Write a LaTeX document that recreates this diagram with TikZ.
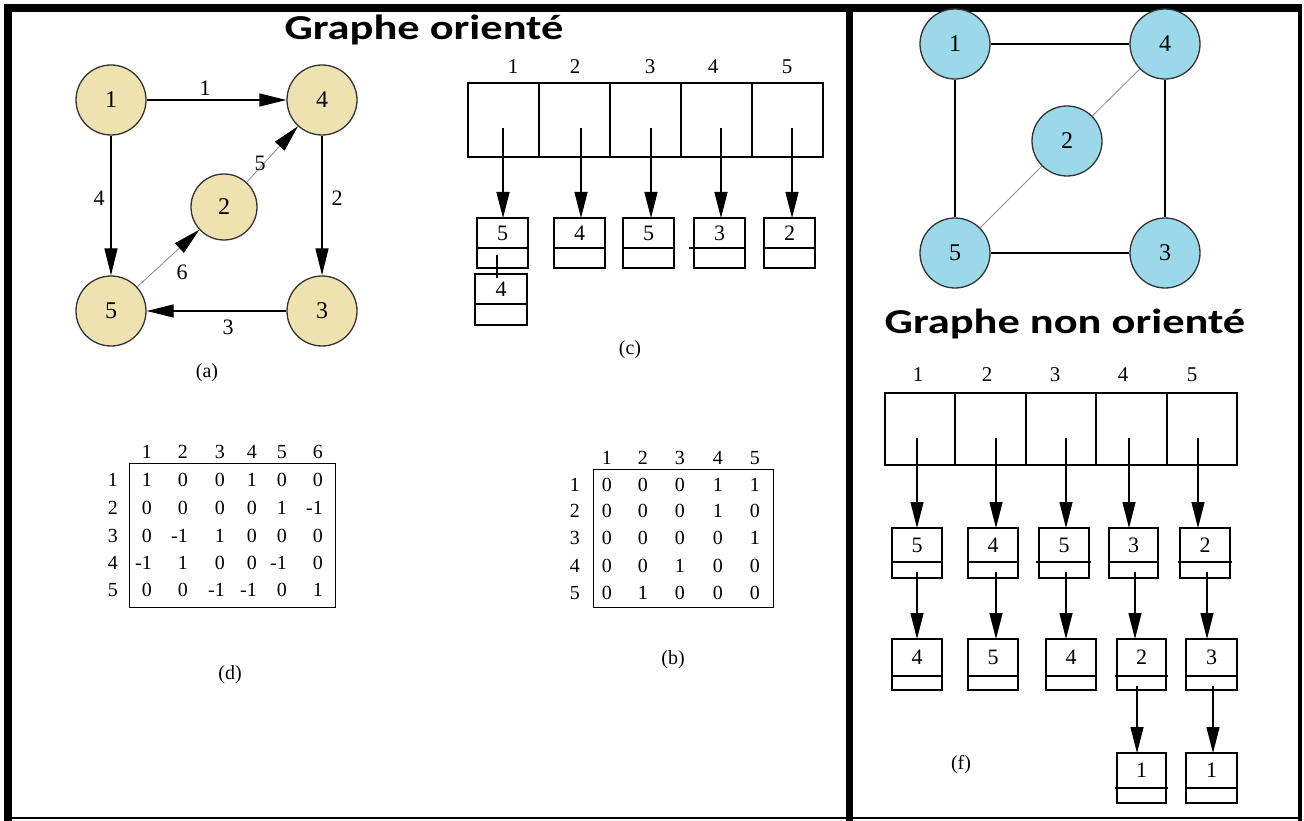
\documentclass[tikz,border=0pt]{standalone}
\usepackage{fontspec}
\setmainfont{Liberation Serif}
\newfontfamily\titlefont[FakeStretch=1.27]{Carlito}
\usetikzlibrary{arrows.meta,calc}
\definecolor{nodetan}{RGB}{238,226,176}
\definecolor{nodeblue}{RGB}{155,216,233}
\newcommand\mkcell[9]{% name, xl, yt, w, h, hd, text, extl, extr
  \node[cellbox, minimum width=#4pt, minimum height=#5pt, anchor=north west] (#1) at (#2,#3) {};
  \draw[line width=2pt] ($(#1.north west)+(-#8,#6)$) -- ($(#1.north east)+(#9,#6)$);
  \node[numtxt] (#1t) at ($(#1.north)+(0,#6/2)$) {#7};
}
\begin{document}
\begin{tikzpicture}[x=1pt,y=-1pt,
  vtx/.style={circle, draw=black!80, line width=1.3pt, minimum size=70pt, inner sep=0pt, font=\fontsize{24}{28}\selectfont},
  tanv/.style={vtx, fill=nodetan},
  bluev/.style={vtx, fill=nodeblue},
  dedge/.style={line width=1.3pt, -{Triangle[length=27pt,width=13pt]}},
  thinedge/.style={line width=0.8pt, draw=black!45},
  thinarrow/.style={thinedge, -{Triangle[length=27pt,width=13pt,black]}},
  uedge/.style={line width=1.3pt},
  elab/.style={font=\fontsize{22}{26}\selectfont, inner sep=0pt},
  cellbox/.style={draw, line width=2pt, rectangle, inner sep=0pt, outer sep=0pt},
  numtxt/.style={font=\fontsize{22}{26}\selectfont, inner sep=0pt},
  hdtxt/.style={font=\fontsize{21}{25}\selectfont, inner sep=0pt},
  larrow/.style={line width=1.3pt, -{Triangle[length=26pt,width=13pt]}},
  mtxt/.style={font=\fontsize{20}{24}\selectfont, inner sep=0pt, anchor=east},
  captxt/.style={font=\fontsize{20}{24}\selectfont, inner sep=0pt},
  ttl/.style={font=\titlefont\bfseries\fontsize{35}{40}\selectfont, inner sep=0pt}
]
\fill[white] (0,0) rectangle (1304,821);
\useasboundingbox (0,0) rectangle (1304,821);

% frame
\draw[line width=8pt] (8,4) -- (8,821);
\draw[line width=8pt] (4,8) -- (1302,8);
\draw[line width=4pt] (1300,4) -- (1300,821);
\draw[line width=2pt] (4,818) -- (1302,818);
\draw[line width=7pt] (849.5,4) -- (849.5,821);

% titles
\node[ttl] (t1) at (424,30) {Graphe orienté};
\node[ttl] (t2) at (1065,324) {Graphe non orienté};

% directed graph (a)
\node[tanv] (a1) at (111,100) {1};
\node[tanv] (a4) at (322,100) {4};
\node[tanv, minimum size=66pt] (a2) at (224,207) {2};
\node[tanv] (a5) at (111,311) {5};
\node[tanv] (a3) at (322,311) {3};
\draw[dedge] (a1) -- (a4);
\draw[dedge] (a1) -- (a5);
\draw[dedge] (a4) -- (a3);
\draw[dedge] (a3) -- (a5);
\draw[thinarrow] (a5) -- (a2);
\draw[thinarrow] (a2) -- (a4);
\node[elab] (e1) at (205,88) {1};
\node[elab] (e4) at (99,198) {4};
\node[elab] (e2) at (337,198) {2};
\node[elab] (e3) at (228,327) {3};
\node[elab] (e6) at (182,272) {6};
\node[elab] (e5) at (260,163) {5};
\node[captxt] (capa) at (207,373) {(a)};

% undirected graph
\node[bluev] (b1) at (955,44) {1};
\node[bluev] (b4) at (1165,44) {4};
\node[bluev] (b2) at (1067,141) {2};
\node[bluev] (b5) at (955,253) {5};
\node[bluev] (b3) at (1165,253) {3};
\draw[uedge] (b1) -- (b4);
\draw[uedge] (b1) -- (b5);
\draw[uedge] (b4) -- (b3);
\draw[uedge] (b5) -- (b3);
\draw[thinedge] (b5) -- (b2);
\draw[thinedge] (b2) -- (b4);

% adjacency list (c)
\foreach \i/\xl in {1/468,2/539,3/610,4/681,5/752}{
  \node[cellbox, minimum width=71pt, minimum height=74pt, anchor=north west] (ch\i) at (\xl,83) {};
}
\foreach \i/\x in {1/513,2/575,3/650,4/713,5/787}{
  \node[hdtxt] (chl\i) at (\x,67) {\i};
}
\mkcell{c1}{477}{218}{51}{50}{30}{5}{0}{0}
\mkcell{c2}{554}{218}{51}{50}{30}{4}{0}{0}
\mkcell{c3}{623}{218}{51}{50}{30}{5}{0}{0}
\mkcell{c4}{694}{218}{51}{50}{30}{3}{5}{0}
\mkcell{c5}{764}{218}{51}{50}{30}{2}{0}{0}
\mkcell{c1b}{475}{274}{52}{51}{30}{4}{0}{0}
\foreach \i/\x/\tgt in {1/503/c1,2/581/c2,3/651/c3,4/721/c4,5/792/c5}{
  \coordinate (cs\i) at (\x,128);
  \draw[larrow] (cs\i) -- (cs\i |- \tgt.north);
}
\coordinate (cp1) at (497,255);
\draw[line width=1.3pt] (cp1) -- ($(cp1 |- c1b.north)+(0,4)$);
\node[captxt] (capc) at (630,350) {(c)};

% incidence matrix (d)
\node[draw, line width=1.3pt, rectangle, inner sep=0pt, minimum width=206pt, minimum height=144pt, anchor=north west] (dbox) at (129,463) {};
\foreach \c/\x in {1/147,2/183,3/220,4/252,5/282,6/318}{
  \node[mtxt] (dh\c) at (\x+5,452) {\c};
}
\foreach \r/\y in {1/480,2/508,3/536,4/563,5/590}{
  \node[mtxt] (dr\r) at (118,\y) {\r};
}
\foreach \r/\y/\vals in {1/480/{1,0,0,1,0,0},2/508/{0,0,0,0,1,-1},3/536/{0,-1,1,0,0,0},4/563/{-1,1,0,0,-1,0},5/590/{0,0,-1,-1,0,1}}{
  \foreach \v [count=\c] in \vals {
    \pgfmathsetmacro{\xx}{{147,183,220,252,282,318}[\c-1]+5}
    \node[mtxt] (d\r\c) at (\xx,\y) {\v};
  }
}
\node[captxt] (capd) at (230,675) {(d)};

% adjacency matrix (b)
\node[draw, line width=1.3pt, rectangle, inner sep=0pt, minimum width=180pt, minimum height=138pt, anchor=north west] (bbox) at (593,469) {};
\foreach \c/\x in {1/607,2/643,3/680,4/718,5/755}{
  \node[mtxt] (bh\c) at (\x+5,458) {\c};
}
\foreach \r/\y in {1/485,2/511,3/538,4/566,5/593}{
  \node[mtxt] (br\r) at (580,\y) {\r};
}
\foreach \r/\y/\vals in {1/485/{0,0,0,1,1},2/511/{0,0,0,1,0},3/538/{0,0,0,0,1},4/566/{0,0,1,0,0},5/593/{0,1,0,0,0}}{
  \foreach \v [count=\c] in \vals {
    \pgfmathsetmacro{\xx}{{607,643,680,718,755}[\c-1]+5}
    \node[mtxt] (bm\r\c) at (\xx,\y) {\v};
  }
}
\node[captxt] (capb) at (673,660) {(b)};

% adjacency list (f)
\foreach \i/\xl in {1/885,2/955.4,3/1025.8,4/1096.2,5/1166.6}{
  \node[cellbox, minimum width=70.4pt, minimum height=72pt, anchor=north west] (fh\i) at (\xl,393) {};
}
\foreach \i/\x in {1/918,2/987,3/1055,4/1123,5/1192}{
  \node[hdtxt] (fhl\i) at (\x,375) {\i};
}
\mkcell{f11}{892}{528}{50}{50}{34}{5}{0}{0}
\mkcell{f12}{968}{528}{50}{50}{34}{4}{0}{0}
\mkcell{f13}{1039}{528}{50}{50}{34}{5}{3}{2}
\mkcell{f14}{1109}{528}{49}{50}{34}{3}{0}{0}
\mkcell{f15}{1180}{528}{50}{50}{34}{2}{2}{2}
\mkcell{f21}{892}{639}{50}{51}{37}{4}{0}{0}
\mkcell{f22}{968}{639}{50}{51}{37}{5}{0}{0}
\mkcell{f23}{1046}{639}{50}{51}{37}{4}{0}{0}
\mkcell{f24}{1117}{639}{49}{51}{37}{2}{2}{2}
\mkcell{f25}{1186}{639}{51}{51}{37}{3}{0}{0}
\mkcell{f34}{1117}{753}{49}{50}{35}{1}{2}{2}
\mkcell{f35}{1186}{753}{51}{50}{35}{1}{0}{0}
\foreach \i/\x/\tgt in {1/917/f11,2/996/f12,3/1066/f13,4/1129/f14,5/1198/f15}{
  \coordinate (fs\i) at (\x,438);
  \draw[larrow] (fs\i) -- (fs\i |- \tgt.north);
}
\foreach \i/\x/\tgt in {1/917/f21,2/996/f22,3/1066/f23,4/1135/f24,5/1207/f25}{
  \coordinate (fm\i) at (\x,572);
  \draw[larrow] (fm\i) -- (fm\i |- \tgt.north);
}
\foreach \i/\x/\tgt in {4/1137/f34,5/1213/f35}{
  \coordinate (fn\i) at (\x,686);
  \draw[larrow] (fn\i) -- (fn\i |- \tgt.north);
}
\node[captxt] (capf) at (961,765) {(f)};
\end{tikzpicture}
\end{document}
